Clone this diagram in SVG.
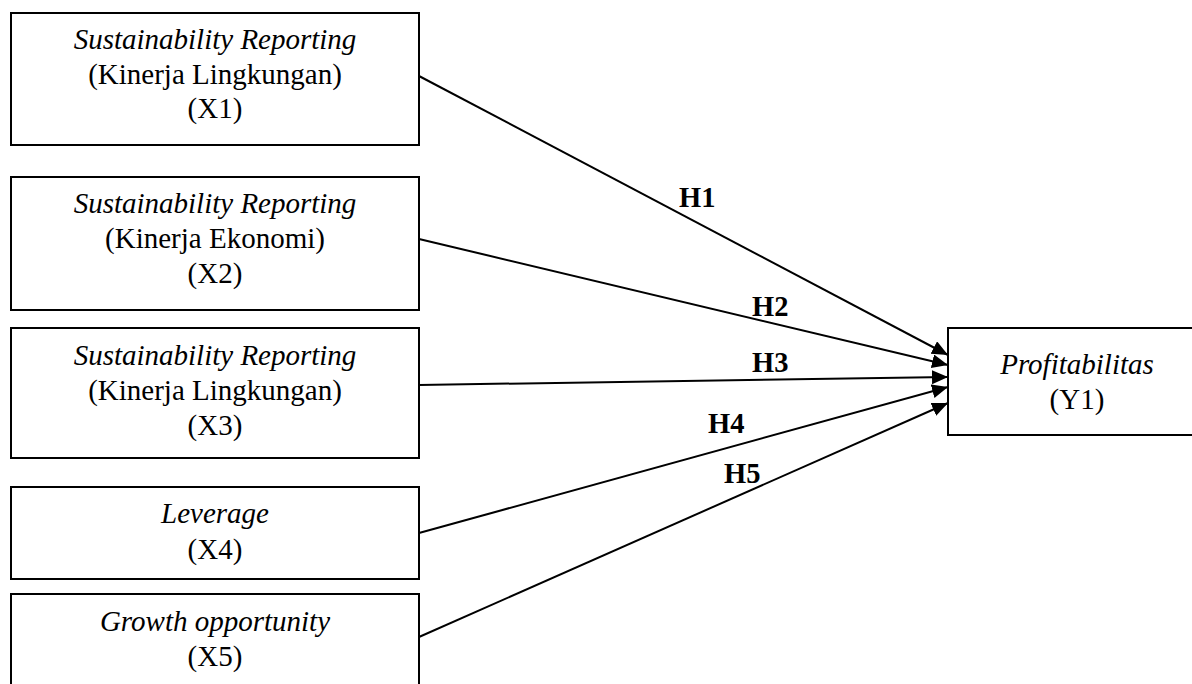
<svg xmlns="http://www.w3.org/2000/svg" width="1192" height="684" viewBox="0 0 1192 684">
<style>
.box{fill:#fff;stroke:#000;stroke-width:2}
.t{font-family:"Liberation Serif","Times New Roman",serif;font-size:29px;fill:#000;text-anchor:middle}
.i{font-style:italic}
.lbl{font-family:"Liberation Serif","Times New Roman",serif;font-size:28.5px;font-weight:bold;fill:#000}
.c{stroke:#000;stroke-width:2;fill:none;marker-end:url(#ah)}
</style>
<defs>
<marker id="ah" markerUnits="userSpaceOnUse" markerWidth="18" markerHeight="16" refX="16" refY="7" orient="auto">
<path d="M0,0 L16,7 L0,14 Z" fill="#000"/>
</marker>
</defs>
<rect width="1192" height="684" fill="#fff"/>
<g id="x1">
<rect class="box" x="11" y="13" width="408" height="132"/>
<text class="t i" x="215" y="49">Sustainability Reporting</text>
<text class="t" x="215" y="83.5">(Kinerja Lingkungan)</text>
<text class="t" x="215" y="118">(X1)</text>
</g>
<g id="x2">
<rect class="box" x="11" y="177" width="408" height="133"/>
<text class="t i" x="215" y="213">Sustainability Reporting</text>
<text class="t" x="215" y="248">(Kinerja Ekonomi)</text>
<text class="t" x="215" y="283">(X2)</text>
</g>
<g id="x3">
<rect class="box" x="11" y="328" width="408" height="130"/>
<text class="t i" x="215" y="365">Sustainability Reporting</text>
<text class="t" x="215" y="400">(Kinerja Lingkungan)</text>
<text class="t" x="215" y="435">(X3)</text>
</g>
<g id="x4">
<rect class="box" x="11" y="487" width="408" height="92"/>
<text class="t i" x="215" y="523">Leverage</text>
<text class="t" x="215" y="559">(X4)</text>
</g>
<g id="x5">
<rect class="box" x="11" y="594" width="408" height="100"/>
<text class="t i" x="215" y="631">Growth opportunity</text>
<text class="t" x="215" y="666">(X5)</text>
</g>
<g id="y1">
<rect class="box" x="948" y="328" width="260" height="107"/>
<text class="t i" x="1077" y="374">Profitabilitas</text>
<text class="t" x="1077" y="409">(Y1)</text>
</g>
<g id="connectors">
<line class="c" x1="419" y1="76" x2="948" y2="355"/>
<line class="c" x1="419" y1="239" x2="948" y2="365"/>
<line class="c" x1="419" y1="385" x2="948" y2="377"/>
<line class="c" x1="419" y1="533" x2="948" y2="387"/>
<line class="c" x1="419" y1="637" x2="948" y2="403"/>
<text class="lbl" x="679" y="207">H1</text>
<text class="lbl" x="752" y="316">H2</text>
<text class="lbl" x="752" y="371.5">H3</text>
<text class="lbl" x="708" y="433">H4</text>
<text class="lbl" x="724" y="483">H5</text>
</g>
</svg>
